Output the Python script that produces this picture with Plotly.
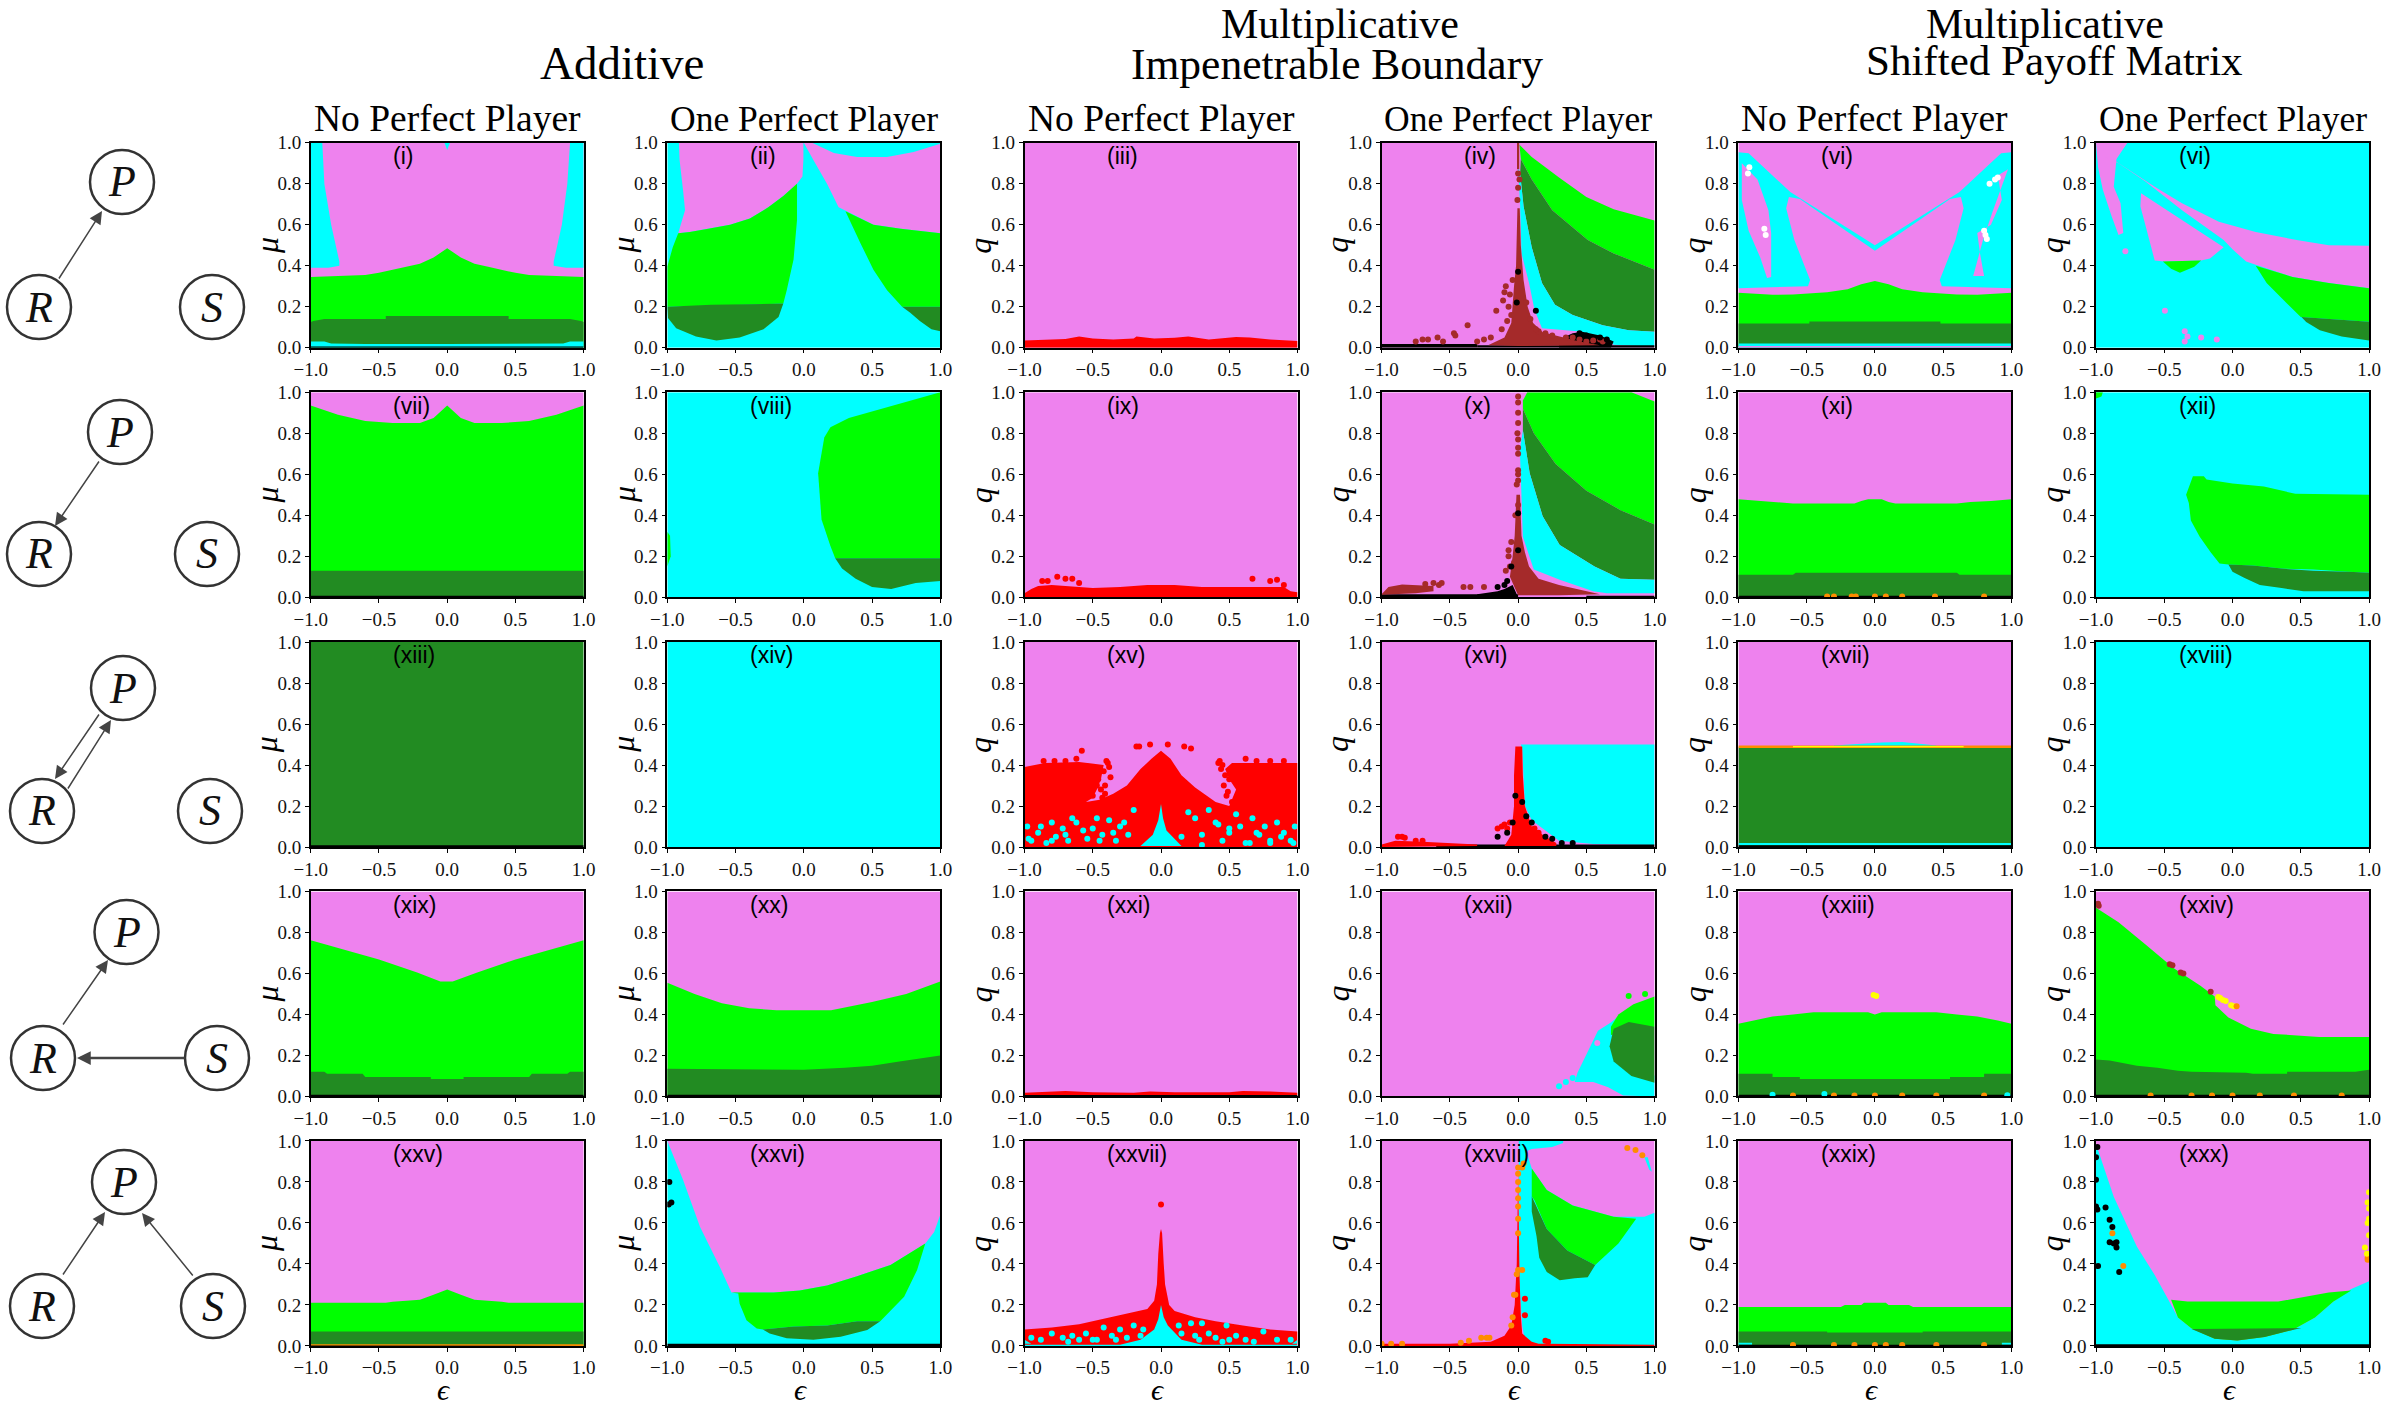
import plotly.graph_objects as go
from plotly.subplots import make_subplots

W, H = 2396, 1416
V, C, L, F = "#EE82EE", "#00FFFF", "#00FF00", "#228B22"
R, B, K, O, Y, T = "#FF0000", "#A52A2A", "#000000", "#FF8C00", "#FFFF00", "#FFFFFF"
SERIF = "Liberation Serif"
SANS = "Liberation Sans"

FULL_X = [-1, 1, 1, -1]
FULL_Y = [0, 0, 1, 1]

labels = ["i", "ii", "iii", "iv", "vi", "vi",
          "vii", "viii", "ix", "x", "xi", "xii",
          "xiii", "xiv", "xv", "xvi", "xvii", "xviii",
          "xix", "xx", "xxi", "xxii", "xxiii", "xxiv",
          "xxv", "xxvi", "xxvii", "xxviii", "xxix", "xxx"]
x_ticks = [-1, -0.5, 0, 0.5, 1]
x_tick_text = ["\u22121.0", "\u22120.5", "0.0", "0.5", "1.0"]
y_ticks = [0, 0.2, 0.4, 0.6, 0.8, 1]
y_tick_text = ["0.0", "0.2", "0.4", "0.6", "0.8", "1.0"]


def full(color):
    return (color, FULL_X, FULL_Y)


def under(color, x, top, base=0):
    return (color, x + x[::-1], top + [base] * len(x))


def strip(color, top, base=0, x0=-1, x1=1):
    return (color, [x0, x1, x1, x0], [base, base, top, top])


# row 1
i_regions = [
    full(V),
    (C, [-1, -.915, -.90, -.85, -.79, -.79, -.87, -1], [1, 1, .8, .6, .42, .40, .39, .39]),
    (C, [1, .9, .88, .84, .78, .78, .87, 1], [1, 1, .8, .6, .42, .40, .39, .39]),
    (C, [-.02, .02, 0], [1, 1, .965]),
    under(L, [-1, -.6, -.5, -.4, -.3, -.2, -.1, 0, .1, .2, .3, .4, .5, .6, 1],
          [.345, .355, .365, .38, .395, .41, .44, .485, .44, .41, .395, .38, .365, .355, .345]),
    under(F, [-1, -.98, -.9, -.45, -.45, .45, .45, .9, .98, 1],
          [.125, .13, .14, .14, .155, .155, .14, .14, .13, .125]),
    under(C, [-1, -.9, -.85, -.6, 0, .6, .85, .9, 1], [.03, .03, .02, .018, .018, .018, .02, .03, .03]),
    strip(K, .006),
]
ii_regions = [
    full(C),
    (V, [-.915, -.003, -.003, -.01, -.05, -.15, -.26, -.395, -.54, -.70, -.835, -.92, -.87, -.885, -.91],
     [1, 1, .915, .835, .80, .74, .685, .63, .60, .58, .565, .558, .67, .77, .915]),
    (V, [0, .06, .22, .39, .61, .805, 1, 1, .71, .51, .315, .255, .17, .07],
     [1, 1, .95, .93, .93, .955, .995, .558, .58, .60, .665, .685, .80, .915]),
    (L, [-1, -.96, -.92, -.835, -.70, -.54, -.395, -.26, -.15, -.05, -.05, -.075, -.125, -.15, -1],
     [.395, .49, .558, .565, .58, .60, .63, .685, .74, .80, .62, .43, .28, .215, .2]),
    (F, [-1, -.68, -.15, -.185, -.295, -.47, -.64, -.79, -.935, -.995, -1],
     [.2, .21, .215, .15, .09, .05, .035, .055, .095, .145, .2]),
    (L, [.305, .51, .71, 1, 1, .72, .61, .51, .415], [.665, .60, .58, .558, .2, .2, .28, .38, .51]),
    (F, [.72, 1, 1, .935, .85, .78], [.2, .2, .08, .09, .13, .17]),
]
iii_regions = [
    full(V),
    under(R, [-1, -.85, -.7, -.6, -.5, -.35, -.2, -.18, -.05, .1, .2, .35, .55, .65, .8, 1],
          [.035, .04, .042, .055, .045, .04, .045, .055, .045, .048, .055, .04, .052, .05, .04, .033]),
]
iv_regions = [
    full(V),
    (L, [.01, .1, .2, .3, .5, .7, 1, 1, .70, .51, .25, .1, .02],
     [.99, .93, .88, .83, .735, .675, .62, .38, .46, .525, .67, .82, .92]),
    (F, [.02, .1, .25, .51, .70, 1, 1, .81, .62, .40, .27, .175, .1, .04, .015],
     [.92, .82, .67, .525, .46, .38, .078, .085, .11, .16, .21, .315, .49, .69, .85]),
    (C, [.015, .04, .1, .175, .27, .40, .62, .81, 1, 1, .70, .66, .435, .175, .12, .08, .025, .015, .0],
     [.85, .69, .49, .315, .21, .16, .11, .085, .078, .005, .015, .04, .08, .095, .185, .315, .46, .69, .88]),
    strip(K, .018, 0, -1, -.3),
    (K, [.3, .4, .47, .6, .7, .68, .3], [.04, .07, .078, .06, .03, 0, 0]),
    strip(K, .012, 0, -.3, 1),
    (B, [-.008, .008, .008, -.008], [1, 1, .87, .87]),
    (B, [-.005, -.015, -.03, -.04, -.05, -.1, -.22, .0, .6, .45, .3, .18, .11, .07, .04, .02, .012],
     [.68, .4, .3, .2, .12, .05, .012, .008, .012, .03, .055, .075, .12, .2, .33, .5, .68]),
]
iv_dots = [
    (B, [-.09, -.1, -.11, -.16, -.07, -.37, -.47, -.46, -.59, -.7, -.75, -.66, -.55, -.3, -.25, -.2, -.12, -.08, 0, .01, 0, -.005,
         .45, .5, .55, .6, .62, .4, .35, .25, .2, .15, -.06, -.05, -.04, .06, .09, .13],
     [.3, .27, .23, .18, .2, .11, .07, .06, .05, .04, .03, .04, .03, .03, .04, .05, .09, .13, .85, .82, .78, .72,
      .04, .03, .035, .04, .03, .05, .05, .06, .07, .08, .26, .16, .33, .22, .14, .09]),
    (K, [.13, .0, -.01, .45, .5, .6, .65], [.18, .37, .22, .07, .06, .05, .04]),
]
v_regions = [
    full(V),
    (C, [-1, -.925, -.62, 0, 0, -.55, -.63, -.65, -.59, -.475, -.49, -1],
     [.953, .948, .76, .50, .473, .725, .735, .68, .525, .33, .30, .29]),
    (C, [1, .925, .62, 0, 0, .55, .63, .65, .59, .475, .49, 1],
     [.953, .948, .76, .50, .473, .725, .735, .68, .525, .33, .30, .29]),
    (V, [-.975, -.86, -.78, -.76, -.76, -.79, -.84, -.925, -.975],
     [.90, .82, .67, .56, .345, .34, .44, .57, .72]),
    (V, [.975, .90, .93, .85, .75, .77, .80, .72, .79, .86],
     [.87, .84, .72, .60, .56, .46, .35, .35, .52, .66]),
    under(L, [-1, -.75, -.6, -.35, -.2, -.1, 0, .1, .2, .35, .6, .75, 1],
          [.268, .258, .26, .27, .285, .31, .325, .31, .285, .27, .26, .258, .268]),
    under(F, [-1, -.48, -.48, .48, .48, 1], [.118, .118, .128, .128, .118, .118]),
    strip(C, .02, 0),
    strip(V, .008, 0),
]
v_dots = [(T, [-.92, -.93, -.81, -.8, .82, .88, .9, .84, .8, .81], [.88, .85, .58, .55, .53, .82, .83, .80, .57, .55])]
vi_regions = [
    full(C),
    (V, [-1, -.77, -.85, -.87, -.82, -.80, -.835, -.885, -.95, -.985],
     [1, 1, .92, .785, .705, .56, .55, .64, .77, .88]),
    (V, [-.935, -.87, -.57, -.37, -.1, .17, .47, .705, 1, 1, .705, .44, .17, .10, 0, -.065, -.37, -.635, -.835],
     [.93, .915, .785, .705, .615, .565, .525, .50, .497, .29, .315, .345, .405, .42, .48, .525, .67, .81, .90]),
    (V, [-.67, -.065, -.165, -.23, -.5, -.57, -.635, -.675], [.753, .49, .435, .425, .42, .425, .59, .69]),
    (L, [-.51, -.23, -.28, -.385, -.45], [.42, .425, .395, .365, .385]),
    (L, [.17, .44, .705, 1, 1, .50, .37, .25], [.40, .345, .315, .29, .127, .15, .235, .315]),
    (F, [.505, .80, 1, 1, .80, .64, .54], [.15, .135, .127, .035, .055, .085, .125]),
]
vi_dots = [(V, [-.785, -.495, -.35, -.33, -.23, -.35, -.115], [.47, .18, .08, .055, .05, .03, .04])]

# row 2
vii_regions = [
    full(V),
    under(L, [-1, -.8, -.6, -.4, -.2, -.1, 0, .1, .2, .4, .6, .8, 1],
          [.935, .89, .86, .85, .85, .875, .935, .875, .85, .85, .86, .89, .935]),
    under(F, [-1, 1], [.13, .13]),
    strip(K, .008),
]
viii_regions = [
    full(C),
    (L, [1, .505, .33, .195, .15, .105, .13, .195, .23, 1], [1, .905, .875, .83, .78, .605, .38, .25, .19, .19]),
    (F, [.23, 1, 1, .82, .64, .5, .38, .28], [.19, .19, .08, .07, .04, .05, .09, .14]),
    (L, [-1, -.98, -.975, -1], [.32, .3, .2, .15]),
]
ix_regions = [
    full(V),
    under(R, [-1, -.95, -.9, -.8, -.7, -.6, -.5, -.3, -.1, 0, .1, .3, .5, .7, .9, .95, 1],
          [.02, .04, .055, .06, .055, .05, .045, .05, .06, .06, .06, .05, .05, .05, .05, .03, .025]),
]
ix_dots = [(R, [-.76, -.83, -.87, -.7, -.65, -.6, .67, .85, .8, .9], [.1, .08, .08, .09, .09, .07, .09, .085, .08, .06])]
x_regions = [
    full(V),
    (L, [.067, .83, 1, 1, .75, .5, .275, .115, .035, .035], [1, 1, .955, .355, .425, .52, .65, .80, .92, .96]),
    (F, [.035, .115, .275, .5, .75, 1, 1, .75, .56, .305, .18, .085, .035],
     [.92, .80, .65, .52, .425, .355, .085, .09, .15, .255, .395, .605, .815]),
    (C, [.035, .085, .18, .305, .56, .75, 1, 1, .65, .55, .305, .115, .035, .02, .013],
     [.815, .605, .395, .255, .15, .09, .085, .02, .02, .03, .085, .135, .295, .54, .72]),
    strip(K, .015, 0, -1, 0),
    strip(K, .008, 0, .5, 1),
    (K, [-.3, -.15, -.1, -.04, 0, -.3], [.015, .03, .04, .06, 0, 0]),
    (B, [-.012, -.025, -.04, -.06, 0, .3, .6, .5, .3, .15, .08, .05, .025, .014],
     [.5, .3, .2, .1, .01, .01, .015, .03, .06, .09, .15, .22, .3, .5]),
    (B, [-1, -.95, -.85, -.7, -.62, -.62, -.75, -1], [.015, .05, .062, .058, .055, .03, .02, .012]),
]
x_dots = [
    (B, [0, 0, 0, 0, -.005, 0, 0, 0, 0, 0, 0, -.01, 0, -.02, -.05, -.07, -.09, -.03, -.58, -.62, -.56, -.68, -.4, -.35, -.25, -.07, -.06],
     [.98, .95, .9, .85, .8, .77, .73, .7, .62, .6, .57, .55, .45, .4, .27, .2, .13, .17, .06, .07, .07, .065, .05, .05, .05, .23, .15]),
    (K, [0, -.05, -.08, 0, -.15, -.1], [.41, .15, .08, .23, .05, .06]),
]
xi_regions = [
    full(V),
    under(L, [-1, -.85, -.7, -.6, -.15, -.1, -.05, .05, .1, .15, .6, .7, .85, 1],
          [.478, .47, .465, .458, .458, .47, .478, .478, .465, .458, .458, .465, .47, .478]),
    under(F, [-1, -.6, -.58, .6, .62, 1], [.11, .11, .12, .12, .11, .11]),
    strip(K, .008),
]
xi_dots = [(O, [-.35, -.3, -.17, -.14, 0, .08, .2, .44, .8], [.004, .004, .004, .004, .004, .004, .004, .004, .004])]
xii_regions = [
    full(C),
    (L, [-1, -.95, -.96, -1], [1, 1, .98, .97]),
    (L, [-.29, -.21, -.19, 0, .23, .46, 1, 1, .85, .59, .36, .15, -.03, -.095, -.16, -.24, -.305, -.32, -.34],
     [.59, .59, .575, .555, .54, .505, .5, .12, .125, .135, .14, .155, .16, .165, .22, .295, .375, .46, .5]),
    (F, [-.03, .15, .36, .59, .85, 1, 1, .52, .36, .2, .085, 0],
     [.16, .155, .14, .13, .125, .12, .03, .03, .045, .06, .095, .125]),
]

# row 3
xiii_regions = [full(F), strip(K, .008)]
xiv_regions = [full(C)]
xv_regions = [
    full(V),
    (R, [-1, -.85, -.6, -.42, -.44, -.47, -.5, -.55, -.45, -.35, -.25, -.15, -.07, 0, .07, .15, .25, .4, .5, .55, .5, .47, .52, .6, 1, 1, -1],
     [.39, .41, .415, .4, .33, .28, .24, .22, .23, .26, .3, .38, .43, .47, .43, .35, .29, .22, .2, .28, .33, .38, .41, .41, .41, 0, 0]),
    (C, [0, -.02, -.06, -.15, .15, .1, .04, .015], [.21, .13, .06, .005, .005, .04, .08, .14]),
]
xv_dots = [
    (R, [-.58, -.18, -.16, -.08, .05, .17, .22, -.4, -.38, -.37, -.41, -.44, -.47, -.5, .43, .44, .47, .5, .49, .52,
         -.39, -.42, -.46, -.41, -.43, .45, .46, .42, .48, .53, .56, -.78, -.7, -.62, -.86, .7, .8, .9, .62],
     [.47, .49, .49, .5, .5, .49, .48, .42, .39, .34, .3, .28, .3, .25, .42, .38, .35, .33, .27, .22,
      .41, .37, .33, .26, .24, .4, .3, .41, .25, .2, .24, .42, .42, .43, .42, .42, .42, .42, .43]),
    (C, [-.98, -.95, -.9, -.84, -.8, -.77, -.72, -.68, -.62, -.57, -.54, -.47, -.43, -.38, -.33, -.3, -.24, -.2, -.97, -.88, -.8, -.7, -.65, -.5, -.45, -.35, -.27,
         .98, .95, .9, .85, .8, .76, .72, .67, .62, .58, .55, .5, .45, .4, .35, .3, .25, .97, .88, .8, .7, .65, .5, .42, .3, .2, .15],
     [.1, .03, .07, .02, .12, .05, .09, .03, .12, .08, .04, .14, .06, .13, .03, .1, .06, .18, .04, .1, .03, .06, .14, .09, .03, .07, .12,
      .1, .03, .07, .12, .03, .1, .06, .14, .02, .1, .16, .07, .03, .12, .18, .06, .14, .02, .05, .02, .07, .02, .09, .11, .01, .17, .05, .22]),
]
xvi_regions = [
    full(V),
    (C, [.02, 1, 1, .55, .3, .2, .1, .05, .04, .03], [.5, .5, .01, .015, .03, .08, .13, .2, .35, .48]),
    strip(K, .012, 0, -.6, 1),
    (R, [-.02, .03, .035, .05, .1, .18, .28, .28, -.1, -.05, -.03, -.03],
     [.49, .49, .35, .2, .1, .06, .02, .005, .005, .06, .2, .35]),
    (R, [-1, -.9, -.7, -.5, -.3, -.3, -1], [.012, .03, .025, .02, .012, .005, 0]),
]
xvi_dots = [
    (R, [-.88, -.85, -.83, -.75, -.7, -.15, -.12, -.1, -.08, -.06, .12, .15],
     [.05, .05, .045, .03, .03, .09, .1, .11, .09, .12, .09, .07]),
    (K, [-.02, -.04, .03, .06, .1, .2, .25, .4, .32, -.08, -.15], [.25, .12, .22, .15, .12, .05, .04, .02, .02, .07, .05]),
]
xvii_regions = [
    full(V),
    under(C, [-.3, -.1, .05, .2, .3, .45], [.495, .505, .51, .512, .505, .495], .49),
    under(F, [-1, 1], [.485, .485]),
    under(O, [-1, 1], [.495, .495], .483),
    under(Y, [-.6, .65], [.493, .493], .486),
    strip(C, .02, .008),
    strip(K, .008),
]
xviii_regions = [full(C)]

# row 4
xix_regions = [
    full(V),
    under(L, [-1, -.5, -.22, -.05, .04, .22, .5, 1], [.762, .668, .604, .561, .56, .604, .668, .762]),
    under(F, [-1, -.9, -.88, -.62, -.6, -.12, -.12, .12, .12, .6, .62, .88, .9, 1],
          [.12, .12, .11, .11, .095, .095, .085, .085, .095, .095, .11, .11, .12, .12]),
    strip(K, .008),
]
xx_regions = [
    full(V),
    under(L, [-1, -.8, -.6, -.4, -.2, 0, .2, .5, .75, 1], [.555, .50, .455, .43, .42, .42, .42, .46, .5, .56]),
    under(F, [-1, 0, .3, .5, .7, 1], [.135, .13, .14, .15, .17, .2]),
    strip(K, .008),
]
xxi_regions = [
    full(V),
    under(R, [-1, -.8, -.7, -.5, -.2, -.08, .1, .5, .6, .8, 1],
          [.018, .024, .026, .02, .018, .024, .02, .02, .026, .024, .018]),
    strip(K, .007),
]
xxii_regions = [
    full(V),
    (C, [.77, .68, .585, .49, .435, .415, .55, .66, .77, 1, 1], [.41, .36, .32, .185, .115, .07, .07, .045, .005, 0, .1]),
    (L, [1, .845, .735, .68, .68, 1], [.487, .45, .40, .34, .3, .34]),
    (F, [1, .81, .70, .67, .70, .83, 1], [.34, .363, .33, .245, .17, .10, .067]),
]
xxii_dots = [(L, [.81, .93], [.49, .5]), (C, [.3, .35, .4], [.05, .07, .09]), (V, [.58], [.26])]
xxiii_regions = [
    full(V),
    under(L, [-1, -.9, -.75, -.6, -.45, -.05, 0, .05, .45, .6, .75, .9, 1],
          [.355, .37, .39, .40, .41, .41, .40, .41, .41, .40, .39, .37, .355]),
    under(F, [-1, -.75, -.75, -.55, -.55, .55, .55, .8, .8, 1], [.11, .11, .095, .095, .085, .085, .095, .095, .11, .11]),
    strip(K, .008),
]
xxiii_dots = [
    (Y, [-.01, .01], [.495, .49]),
    (O, [-.6, -.3, -.15, 0, .2, .45, .8], [.004, .004, .004, .004, .004, .004, .004]),
    (C, [-.75, -.37, .97], [.008, .012, .006]),
]
xxiv_regions = [
    full(V),
    under(L, [-1, -.835, -.635, -.43, -.235, -.13, -.125, -.03, .135, .3, .635, 1],
          [.92, .85, .74, .625, .54, .487, .445, .385, .33, .305, .29, .29]),
    under(F, [-1, -.9, -.7, -.55, -.4, -.3, .1, .15, .4, .4, .9, 1],
          [.18, .175, .15, .14, .125, .12, .115, .11, .11, .12, .12, .13]),
    strip(K, .008),
]
xxiv_dots = [
    (B, [-.98, -.985, -.46, -.44, -.38, -.36, -.16], [.93, .94, .645, .64, .605, .6, .51]),
    (Y, [-.105, -.09, -.07, -.05, -.01, .01], [.485, .48, .47, .465, .445, .44]),
    (O, [.03, -.6, -.3, -.15, 0, .2, .45, .8], [.44, .004, .004, .004, .004, .004, .004, .004]),
]

# row 5
xxv_regions = [
    full(V),
    under(L, [-1, -.45, -.4, -.2, -.1, 0, .1, .2, .4, .45, 1],
          [.21, .21, .215, .225, .25, .275, .25, .225, .215, .21, .21]),
    under(F, [-1, 1], [.07, .07]),
    strip(O, .008),
    strip(K, .002),
]
xxvi_regions = [
    full(C),
    (V, [-1, 1, 1, .955, .89, .635, .39, .17, -.03, -.22, -.53, -.615, -.76, -.885],
     [1, 1, .64, .555, .5, .395, .34, .295, .27, .26, .26, .385, .58, .81]),
    (L, [-.53, -.22, -.03, .17, .39, .635, .89, .83, .735, .56, .39, .17, -.075, -.3, -.345, -.42, -.47, -.48],
     [.26, .26, .27, .295, .34, .395, .5, .37, .24, .12, .12, .10, .095, .08, .085, .125, .205, .255]),
    (F, [-.3, -.075, .17, .39, .56, .465, .27, .07, -.125, -.25], [.08, .095, .10, .12, .12, .078, .045, .03, .037, .06]),
    strip(K, .01),
]
xxvi_dots = [(K, [-.985, -.97, -.99], [.8, .7, .69])]
xxvii_regions = [
    full(V),
    under(R, [-1, -.8, -.6, -.4, -.25, -.1, -.05, -.03, -.02, -.008, 0, .008, .02, .03, .06, .1, .25, .4, .6, .8, 1],
          [.08, .09, .105, .135, .155, .18, .22, .3, .45, .55, .57, .55, .4, .3, .2, .17, .14, .12, .1, .08, .07]),
    (C, [0, -.02, -.05, -.15, -.3, -1, -1, 1, 1, .3, .15, .05, .02], [.2, .13, .08, .03, .005, .005, 0, 0, .005, .005, .03, .1, .14]),
    (C, [-1, -.95, -1], [.03, .01, .01]),
    (C, [1, .96, 1], [.03, .01, .01]),
]
xxvii_dots = [
    (R, [0], [.69]),
    (C, [-.95, -.8, -.72, -.65, -.6, -.55, -.5, -.42, -.36, -.3, -.25, -.2, -.15, -.88, -.68, -.47, -.33, -.13,
         .13, .15, .22, .25, .3, .35, .4, .48, .5, .55, .62, .75, .85, .95, .28, .45, .68],
     [.04, .06, .04, .05, .03, .06, .03, .09, .05, .08, .04, .1, .05, .03, .02, .03, .03, .08,
      .1, .06, .11, .05, .11, .06, .04, .1, .03, .05, .03, .07, .03, .03, .03, .02, .02]),
]
xxviii_regions = [
    full(V),
    (C, [.005, .33, .33, .25, .1, .06, .10, .21, .40, .7, .925, 1, 1, .2, .05, .03, .01, .005],
     [1, 1, .99, .97, .96, .95, .865, .76, .685, .63, .63, .65, 0, 0, .02, .1, .3, .6]),
    (C, [.925, .95, .98, .96], [.92, .92, .85, .86]),
    (L, [.10, .21, .40, .70, .865, .735, .565, .36, .21, .12, .10],
     [.865, .76, .685, .63, .62, .50, .395, .465, .57, .71, .73]),
    (F, [.10, .21, .36, .565, .51, .415, .305, .21, .155, .135, .10],
     [.73, .57, .465, .395, .335, .33, .32, .36, .43, .535, .655]),
    (R, [-1, -1, -.5, -.2, -.1, -.05, -.025, -.01, -.005, 0, .005, .01, .02, .03, .1, .15, .2, 1, 1],
     [0, .01, .01, .02, .05, .1, .2, .4, .6, .85, .6, .35, .15, .06, .02, .01, .01, .005, 0]),
]
xxviii_dots = [
    (R, [.05, .05, .2, .22], [.23, .15, .025, .02]),
    (O, [0, 0, 0, 0, 0, 0, 0, 0, .03, .04, .8, .86, .91, -.27, -.23, -.21, -.42, -.36, -.85, -.93, -1, -.05, -.04, -.03, -.02, -.01, .0, .03],
     [.87, .84, .8, .76, .72, .68, .62, .55, .87, .89, .965, .955, .93, .04, .04, .04, .015, .025, .01, .01, .01, .1, .14, .25, .25, .35, .37, .37]),
]
xxix_regions = [
    full(V),
    under(L, [-1, -.25, -.22, -.1, -.08, .08, .1, .25, .28, 1], [.19, .19, .2, .2, .21, .21, .2, .2, .19, .19]),
    under(F, [-1, -.35, -.35, .35, .35, 1], [.07, .07, .065, .065, .07, .07]),
    strip(C, .015, .005, -1, -.9),
    strip(C, .015, .005, .93, 1),
    strip(K, .006),
]
xxix_dots = [
    (O, [-.6, -.3, -.15, 0, .08, .2, .45, .8], [.004, .004, .004, .004, .004, .004, .004, .004]),
]
xxx_regions = [
    full(V),
    (C, [-1, -.87, -.70, -.57, -.47, -.40, -.30, -.13, .035, .235, .44, .605, .74, .87, 1, 1, -1],
     [.985, .727, .484, .346, .225, .138, .085, .035, .026, .043, .078, .138, .216, .277, .315, 0, 0]),
    (L, [-.45, -.33, .335, .705, .87, .74, .605, .44, .235, .035, -.13, -.30, -.40],
     [.225, .216, .216, .26, .27, .216, .138, .078, .043, .026, .035, .085, .138]),
    (F, [-.30, .505, .44, .235, .035, -.13], [.083, .087, .078, .043, .026, .035]),
    strip(K, .008),
]
xxx_dots = [
    (K, [-.99, -1, -1, -1, -.99, -.93, -.9, -.88, -.9, -.87, -.85, -.85, -.985, -.83],
     [.97, .92, .81, .68, .665, .675, .615, .58, .505, .5, .505, .48, .39, .36]),
    (O, [-.88, -.8, .99, .99], [.55, .39, .43, .42]),
    (Y, [1, .99, 1, 1, .99, 1, .97, .985], [.75, .7, .67, .62, .6, .54, .48, .45]),
]

panel_regions = [
    i_regions, ii_regions, iii_regions, iv_regions, v_regions, vi_regions,
    vii_regions, viii_regions, ix_regions, x_regions, xi_regions, xii_regions,
    xiii_regions, xiv_regions, xv_regions, xvi_regions, xvii_regions, xviii_regions,
    xix_regions, xx_regions, xxi_regions, xxii_regions, xxiii_regions, xxiv_regions,
    xxv_regions, xxvi_regions, xxvii_regions, xxviii_regions, xxix_regions, xxx_regions,
]
panel_dots = {
    "iv": iv_dots, "v": v_dots, "vi": vi_dots, "ix": ix_dots, "x": x_dots, "xi": xi_dots,
    "xv": xv_dots, "xvi": xvi_dots, "xxii": xxii_dots, "xxiii": xxiii_dots, "xxiv": xxiv_dots,
    "xxvi": xxvi_dots, "xxvii": xxvii_dots, "xxviii": xxviii_dots, "xxix": xxix_dots, "xxx": xxx_dots,
}
dot_keys = ["", "", "", "iv", "v", "vi",
            "", "", "ix", "x", "xi", "",
            "", "", "xv", "xvi", "", "",
            "", "", "", "xxii", "xxiii", "xxiv",
            "", "xxvi", "xxvii", "xxviii", "xxix", "xxx"]

# layout, in pixels of the page
COL_LEFT = [310.7, 667.3, 1024.5, 1381.6, 1738.4, 2096]
PLOT_W = 273
ROW_TOP = [142.7, 392.3, 642, 891.4, 1140.9]
PLOT_H = 205


def px(x):
    return x / W


def py(y):
    return 1 - y / H


fig = make_subplots(rows=5, cols=6)

for idx, regions in enumerate(panel_regions):
    r, c = idx // 6 + 1, idx % 6 + 1
    for color, xs, ys in regions:
        fig.add_trace(go.Scatter(x=xs, y=ys, mode="lines", fill="toself", fillcolor=color,
                                 line=dict(width=0), hoverinfo="skip", showlegend=False), row=r, col=c)
    if dot_keys[idx]:
        for color, xs, ys in panel_dots[dot_keys[idx]]:
            fig.add_trace(go.Scatter(x=xs, y=ys, mode="markers", marker=dict(color=color, size=6),
                                     hoverinfo="skip", showlegend=False), row=r, col=c)
    left, top = COL_LEFT[c - 1], ROW_TOP[r - 1]
    fig.update_xaxes(domain=[px(left), px(left + PLOT_W)], range=[-1, 1], tickvals=x_ticks, ticktext=x_tick_text,
                     ticks="outside", ticklen=4, tickwidth=1, tickcolor="black", showgrid=False, zeroline=False,
                     automargin=False, showline=True, linecolor="black", linewidth=1.5, mirror=True,
                     tickfont=dict(family=SERIF, size=19, color="#111"), row=r, col=c)
    fig.update_yaxes(domain=[py(top + PLOT_H), py(top)], range=[0, 1], tickvals=y_ticks, ticktext=y_tick_text,
                     ticks="outside", ticklen=4, tickwidth=1, tickcolor="black", showgrid=False, zeroline=False,
                     automargin=False, showline=True, linecolor="black", linewidth=1.5, mirror=True,
                     tickfont=dict(family=SERIF, size=19, color="#111"), row=r, col=c)
    axis_id = "" if idx == 0 else str(idx + 1)
    fig.add_annotation(x=-.41, y=.935, xref=f"x{axis_id}", yref=f"y{axis_id}", text=f"({labels[idx]})",
                       showarrow=False, xanchor="left", font=dict(family=SANS, size=23, color="black"))
    # axis names sit closer to the ticks than plotly's title standoff allows
    fig.add_annotation(x=px(left - 44), y=py(top + PLOT_H / 2), xref="paper", yref="paper", textangle=-90,
                       text="<i>\u03bc</i>" if c <= 2 else "<i>q</i>", showarrow=False,
                       xanchor="center", yanchor="middle", font=dict(family=SERIF, size=32, color="black"))
    if r == 5:
        fig.add_annotation(x=px(left + PLOT_W / 2 - 3), y=py(top + PLOT_H + 44), xref="paper", yref="paper",
                           text="<i>\u03f5</i>", showarrow=False, xanchor="center", yanchor="middle",
                           font=dict(family=SERIF, size=30, color="black"))

# headings
headings = [
    ("Additive", 622, 63, 47),
    ("Multiplicative", 1340, 24, 42),
    ("Impenetrable Boundary", 1337, 64, 43.5),
    ("Multiplicative", 2045, 24, 42),
    ("Shifted Payoff Matrix", 2054, 60, 43),
]
for text, x, y, size in headings:
    fig.add_annotation(x=px(x), y=py(y), xref="paper", yref="paper", text=text, showarrow=False,
                       xanchor="center", yanchor="middle", font=dict(family=SERIF, size=size, color="black"))
for i, left in enumerate(COL_LEFT):
    fig.add_annotation(x=px(left + PLOT_W / 2), y=py(119), xref="paper", yref="paper",
                       text="No Perfect Player" if i % 2 == 0 else "One Perfect Player", showarrow=False,
                       xanchor="center", yanchor="middle",
                       font=dict(family=SERIF, size=37.5 if i % 2 == 0 else 35.5, color="black"))

# network diagrams on the left
node_pos = [
    {"P": (122, 182), "R": (39, 307), "S": (212, 307)},
    {"P": (120, 432), "R": (39, 554), "S": (207, 554)},
    {"P": (123, 688), "R": (42, 811), "S": (210, 811)},
    {"P": (126.5, 932), "R": (43, 1058), "S": (217, 1058)},
    {"P": (124, 1182), "R": (42, 1306), "S": (213, 1306)},
]
arrows = [
    [((58, 280), (102, 211), 2)],
    [((100, 460), (55, 526), 2)],
    [((100, 713), (55, 779), 2), ((67, 790), (111, 720), 2)],
    [((62, 1026), (108, 960), 2), ((186, 1058), (77, 1058), 3)],
    [((62, 1276), (105, 1212), 2), ((194, 1277), (142, 1213), 2)],
]
NODE_R = 32

for nodes, links in zip(node_pos, arrows):
    for name, (nx, ny) in nodes.items():
        fig.add_shape(type="circle", xref="paper", yref="paper", x0=px(nx - NODE_R), x1=px(nx + NODE_R),
                      y0=py(ny + NODE_R), y1=py(ny - NODE_R), line=dict(color="#333", width=2.5))
        fig.add_annotation(x=px(nx), y=py(ny), xref="paper", yref="paper", text=f"<i>{name}</i>", showarrow=False,
                           xanchor="center", yanchor="middle", font=dict(family=SERIF, size=44, color="#111"))
    for (x0, y0), (x1, y1), lw in links:
        fig.add_annotation(x=px(x1), y=py(y1), xref="paper", yref="paper", ax=x0 - x1, ay=y0 - y1,
                           axref="pixel", ayref="pixel", text="", showarrow=True, arrowhead=2,
                           arrowsize=1.7 if lw == 2 else 1.1, arrowwidth=lw - .5, arrowcolor="#444")

fig.update_layout(width=W, height=H, margin=dict(l=0, r=0, t=0, b=0, autoexpand=False), autosize=False,
                  paper_bgcolor="white", plot_bgcolor="white", showlegend=False)
fig.write_html("out.html", post_script="document.body.style.margin='0';", config=dict(displayModeBar=False))
